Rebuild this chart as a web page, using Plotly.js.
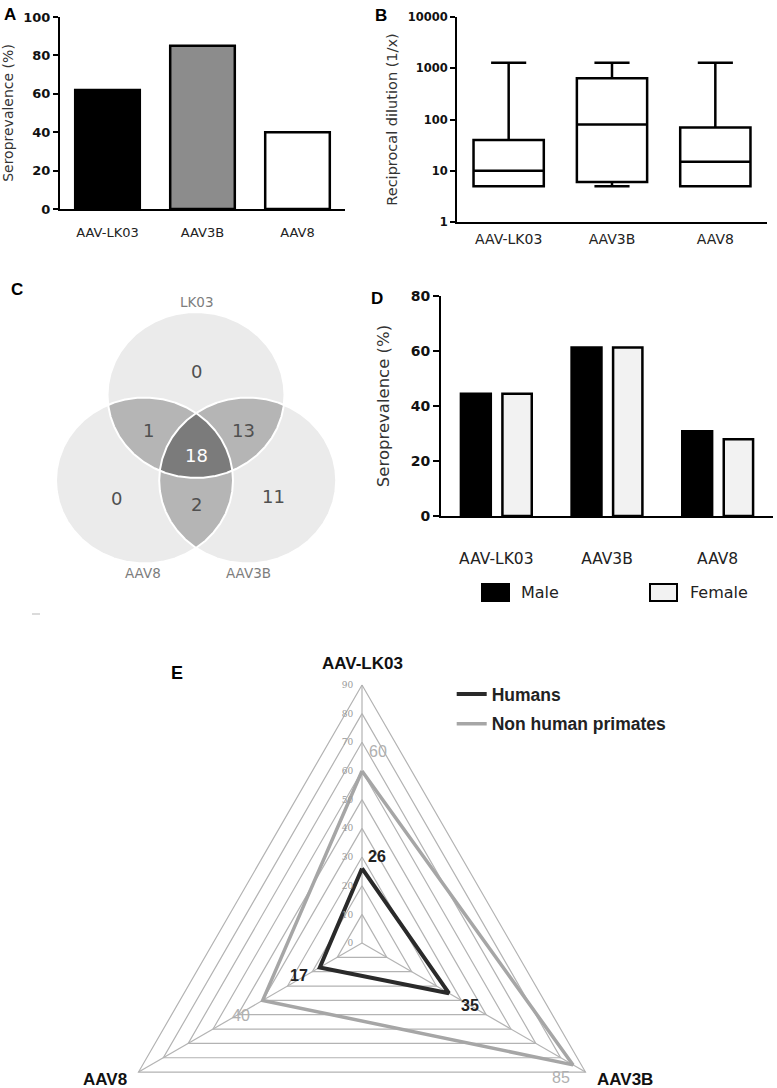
<!DOCTYPE html>
<html><head><meta charset="utf-8">
<script src="https://cdn.plot.ly/plotly-3.0.1.min.js"></script>
<style>html,body{margin:0;padding:0;background:#fff}</style>
</head><body><div id="chart" style="width:777px;height:1088px"></div>
<script>
// ---------------- DATA ----------------
const serotypes = ['AAV-LK03', 'AAV3B', 'AAV8'];
// A: seroprevalence (%)
const seroprevalence = [62, 85, 40];
// B: reciprocal dilution box plot
const titerMin = [5, 5, 5];
const titerQ1 = [5, 6, 5];
const titerMedian = [10, 80, 15];
const titerQ3 = [40, 640, 70];
const titerMax = [1280, 1280, 1280];
// C: Venn diagram
const vennSetNames = ['LK03', 'AAV8', 'AAV3B'];
const vennRegionSets = [[0], [1], [2], [0, 1], [0, 2], [1, 2], [0, 1, 2]];
const vennCounts = [0, 0, 11, 1, 13, 2, 18];
// D: by sex
const maleSero = [44.5, 61.3, 30.8];
const femaleSero = [44.5, 61.3, 27.9];
// E: radar
const radarAxes = ['AAV-LK03', 'AAV3B', 'AAV8'];
const humansSero = [26, 35, 17];
const nhpSero = [60, 85, 40];
const radarTicks = [0, 10, 20, 30, 40, 50, 60, 70, 80, 90];

// ---------------- LAYOUT HELPERS ----------------
const W = 777, H = 1088;
const fx = p => p / W, fy = p => 1 - p / H;
const SANS = 'DejaVu Sans, sans-serif';
const ARIAL = 'Liberation Sans, Arial, sans-serif';

const traces = [];
const shapes = [];
const annotations = [];

// ---------- Panel A ----------
traces.push({
  type: 'bar', x: serotypes, y: seroprevalence, width: 0.68,
  marker: {color: ['#000000', '#8c8c8c', '#ffffff'], line: {color: '#000', width: 2.5}},
  xaxis: 'x', yaxis: 'y', showlegend: false, hoverinfo: 'skip'
});

// ---------- Panel B ----------
traces.push({
  type: 'box', x: serotypes, q1: titerQ1, median: titerMedian, q3: titerQ3,
  lowerfence: titerMin, upperfence: titerMax,
  width: 0.68, whiskerwidth: 0.5, fillcolor: '#ffffff',
  line: {color: '#000', width: 2.5}, xaxis: 'x2', yaxis: 'y2',
  showlegend: false, hoverinfo: 'skip'
});

// ---------- Panel C (Venn) ----------
const VR = {rx: 88.5, ry: 83};
const vennCenters = [[160, 195], [108.5, 109.5], [211.7, 109.5]];
function onEllipse(c, t) { return [c[0] + VR.rx * Math.cos(t), c[1] + VR.ry * Math.sin(t)]; }
function inside(c, p) {
  const dx = (p[0] - c[0]) / VR.rx, dy = (p[1] - c[1]) / VR.ry;
  return dx * dx + dy * dy <= 1 + 1e-9;
}
function regionPoly(idx) {
  const pts = [], N = 1440;
  idx.forEach(i => {
    for (let k = 0; k < N; k++) {
      const p = onEllipse(vennCenters[i], 2 * Math.PI * k / N);
      if (idx.every(j => j === i || inside(vennCenters[j], p))) pts.push(p);
    }
  });
  const cx = pts.reduce((s, p) => s + p[0], 0) / pts.length;
  const cy = pts.reduce((s, p) => s + p[1], 0) / pts.length;
  pts.sort((a, b) => Math.atan2(a[1] - cy, a[0] - cx) - Math.atan2(b[1] - cy, b[0] - cx));
  pts.push(pts[0]);
  return pts;
}
const vennFill = {1: '#ebebeb', 2: '#b5b5b5', 3: '#7b7b7b'};
[[0], [1], [2], [0, 1], [0, 2], [1, 2], [0, 1, 2]].forEach(idx => {
  const poly = regionPoly(idx);
  traces.push({
    type: 'scatter', mode: 'lines', x: poly.map(p => p[0]), y: poly.map(p => p[1]),
    fill: 'toself', fillcolor: vennFill[idx.length], line: {width: 0, color: vennFill[idx.length]},
    xaxis: 'x3', yaxis: 'y3', showlegend: false, hoverinfo: 'skip'
  });
});
[0, 1, 2].forEach(i => {
  const poly = regionPoly([i]);
  traces.push({
    type: 'scatter', mode: 'lines', x: poly.map(p => p[0]), y: poly.map(p => p[1]),
    line: {width: 2, color: '#ffffff'}, xaxis: 'x3', yaxis: 'y3', showlegend: false, hoverinfo: 'skip'
  });
});
const vennCountPx = [[196.7, 371.7], [116.7, 498.3], [273.3, 496.7], [148.3, 430], [243.3, 430], [196.7, 505], [196.7, 455]];
vennCounts.forEach((c, k) => {
  annotations.push({
    xref: 'paper', yref: 'paper', x: fx(vennCountPx[k][0]), y: fy(vennCountPx[k][1]),
    text: String(c), showarrow: false, xanchor: 'center', yanchor: 'middle',
    font: {family: SANS, size: 18, color: vennRegionSets[k].length === 3 ? '#ffffff' : '#505050'}
  });
});
const vennSetPx = [[196.5, 302], [143.3, 573.3], [248.3, 573.3]];
vennSetNames.forEach((n, k) => {
  annotations.push({
    xref: 'paper', yref: 'paper', x: fx(vennSetPx[k][0]), y: fy(vennSetPx[k][1]),
    text: n, showarrow: false, xanchor: 'center', yanchor: 'middle',
    font: {family: SANS, size: 13.5, color: '#7d7d7d'}
  });
});

// ---------- Panel D ----------
traces.push({
  type: 'bar', name: 'Male', x: serotypes, y: maleSero, offset: -0.32, width: 0.27,
  marker: {color: '#000000', line: {color: '#000', width: 2.5}},
  xaxis: 'x4', yaxis: 'y4', showlegend: false, hoverinfo: 'skip'
});
traces.push({
  type: 'bar', name: 'Female', x: serotypes, y: femaleSero, offset: 0.055, width: 0.265,
  marker: {color: '#f2f2f2', line: {color: '#000', width: 2.5}},
  xaxis: 'x4', yaxis: 'y4', showlegend: false, hoverinfo: 'skip'
});
// legend keys for D
shapes.push({type: 'rect', xref: 'paper', yref: 'paper', x0: fx(482), x1: fx(509), y0: fy(601), y1: fy(584),
  fillcolor: '#000', line: {color: '#000', width: 2}});
shapes.push({type: 'rect', xref: 'paper', yref: 'paper', x0: fx(650), x1: fx(677), y0: fy(601), y1: fy(584),
  fillcolor: '#f2f2f2', line: {color: '#000', width: 2}});
annotations.push({xref: 'paper', yref: 'paper', x: fx(519), y: fy(592.5), text: 'Male', showarrow: false,
  xanchor: 'left', yanchor: 'middle', font: {family: SANS, size: 16, color: '#222'}});
annotations.push({xref: 'paper', yref: 'paper', x: fx(688), y: fy(592.5), text: 'Female', showarrow: false,
  xanchor: 'left', yanchor: 'middle', font: {family: SANS, size: 16, color: '#222'}});

// ---------- Panel E (radar) ----------
function radarXY(v, i) { const a = 2 * Math.PI * i / radarAxes.length; return [v * Math.sin(a), v * Math.cos(a)]; }
const gx = [], gy = [];
radarTicks.filter(t => t > 0).forEach(t => {
  [0, 1, 2, 0].forEach(i => { const p = radarXY(t, i); gx.push(p[0]); gy.push(p[1]); });
  gx.push(null); gy.push(null);
});
const rMax = radarTicks[radarTicks.length - 1];
radarAxes.forEach((a, i) => { const p = radarXY(rMax, i); gx.push(0, p[0], null); gy.push(0, p[1], null); });
traces.push({type: 'scatter', mode: 'lines', x: gx, y: gy, line: {color: '#b3b3b3', width: 1.2},
  xaxis: 'x5', yaxis: 'y5', showlegend: false, hoverinfo: 'skip'});
function loop(vals) {
  const idx = vals.map((v, i) => i).concat([0]);
  return {x: idx.map(i => radarXY(vals[i], i)[0]), y: idx.map(i => radarXY(vals[i], i)[1])};
}
const nhpLoop = loop(nhpSero), humLoop = loop(humansSero);
traces.push({type: 'scatter', mode: 'lines', name: 'Non human primates', x: nhpLoop.x, y: nhpLoop.y,
  line: {color: '#a6a6a6', width: 3.5}, xaxis: 'x5', yaxis: 'y5', legendrank: 2, legendgroup: 'n', hoverinfo: 'skip'});
traces.push({type: 'scatter', mode: 'lines', name: 'Humans', x: humLoop.x, y: humLoop.y,
  line: {color: '#2a2a2a', width: 4}, xaxis: 'x5', yaxis: 'y5', legendrank: 1, legendgroup: 'h', hoverinfo: 'skip'});

const humansLabelShift = [[15, 11.8], [21, -12.3], [-21, -8.4]];
const nhpLabelShift = [[16, 19.7], [-12, -12.7], [-22, -15.5]];
const radarAxisLabelShift = [[0, 21], [39.6, -7], [-33.6, -7.5]];
humansSero.forEach((v, i) => {
  const p = radarXY(v, i);
  annotations.push({xref: 'x5', yref: 'y5', x: p[0], y: p[1], text: String(v), showarrow: false,
    xshift: humansLabelShift[i][0], yshift: humansLabelShift[i][1],
    font: {family: ARIAL, size: 16, color: '#222', weight: 'bold'}});
});
nhpSero.forEach((v, i) => {
  const p = radarXY(v, i);
  annotations.push({xref: 'x5', yref: 'y5', x: p[0], y: p[1], text: String(v), showarrow: false,
    xshift: nhpLabelShift[i][0], yshift: nhpLabelShift[i][1],
    font: {family: ARIAL, size: 16, color: '#b0b0b0'}});
});
radarAxes.forEach((a, i) => {
  const p = radarXY(rMax, i);
  annotations.push({xref: 'x5', yref: 'y5', x: p[0], y: p[1], text: a, showarrow: false,
    xshift: radarAxisLabelShift[i][0], yshift: radarAxisLabelShift[i][1],
    font: {family: ARIAL, size: 17, color: '#111', weight: 'bold'}});
});

// ---------- Panel letters ----------
[['A', 10, 14.5], ['B', 381, 15], ['C', 17, 289], ['D', 377, 298], ['E', 177, 672.5]].forEach(l => {
  annotations.push({xref: 'paper', yref: 'paper', x: fx(l[1]), y: fy(l[2]), text: l[0], showarrow: false,
    xanchor: 'center', yanchor: 'middle', font: {family: ARIAL, size: l[0] === 'E' ? 18 : 17, color: '#000', weight: 'bold'}});
});
// small stray mark in panel C
shapes.push({type: 'line', xref: 'paper', yref: 'paper', x0: fx(32), x1: fx(40), y0: fy(614), y1: fy(614),
  line: {color: '#cfcfcf', width: 1.5}});

// ---------- Axes ----------
const baseX = {type: 'category', showline: true, linecolor: '#000', linewidth: 2, showgrid: false, zeroline: false,
  ticks: 'outside', tickcolor: 'rgba(0,0,0,0)', fixedrange: true, automargin: false};
const baseY = {showline: true, linecolor: '#000', linewidth: 2, showgrid: false, zeroline: false,
  ticks: 'outside', tickwidth: 2, tickcolor: '#000', fixedrange: true, automargin: false};

const layout = {
  width: W, height: H, margin: {l: 0, r: 0, t: 0, b: 0},
  paper_bgcolor: '#fff', plot_bgcolor: 'rgba(0,0,0,0)', barmode: 'overlay', hovermode: false,
  font: {family: SANS, color: '#222'},
  xaxis: Object.assign({}, baseX, {domain: [fx(60), fx(345)], anchor: 'y', range: [-0.5, 2.5], ticklen: 10,
    tickfont: {family: SANS, size: 13, color: '#222'}}),
  yaxis: Object.assign({}, baseY, {domain: [fy(209), fy(17)], anchor: 'x', range: [0, 100],
    tickvals: [0, 20, 40, 60, 80, 100], ticklen: 5,
    tickfont: {family: SANS, size: 13, color: '#111', weight: 'bold'},
    title: {text: 'Seroprevalence (%)', standoff: 9, font: {family: SANS, size: 14, color: '#333'}}}),
  xaxis2: Object.assign({}, baseX, {domain: [fx(457), fx(767)], anchor: 'y2', range: [-0.5, 2.5], ticklen: 3,
    tickfont: {family: SANS, size: 14, color: '#222'}}),
  yaxis2: Object.assign({}, baseY, {domain: [fy(222), fy(17)], anchor: 'x2', type: 'log', range: [0, 4],
    tickvals: [1, 10, 100, 1000, 10000], ticktext: ['1', '10', '100', '1000', '10000'], ticklen: 5,
    tickfont: {family: SANS, size: 11.5, color: '#111', weight: 'bold'},
    title: {text: 'Reciprocal dilution (1/x)', standoff: 7, font: {family: SANS, size: 14.5, color: '#333'}}}),
  xaxis3: {domain: [fx(36), fx(356)], anchor: 'y3', range: [0, 320], visible: false, fixedrange: true},
  yaxis3: {domain: [fy(590), fy(290)], anchor: 'x3', range: [0, 300], visible: false, fixedrange: true},
  xaxis4: Object.assign({}, baseX, {domain: [fx(441), fx(773)], anchor: 'y4', range: [-0.5, 2.5], ticklen: 27,
    tickfont: {family: SANS, size: 15.5, color: '#222'}}),
  yaxis4: Object.assign({}, baseY, {domain: [fy(516), fy(296)], anchor: 'x4', range: [0, 80],
    tickvals: [0, 20, 40, 60, 80], ticklen: 6,
    tickfont: {family: SANS, size: 14, color: '#111', weight: 'bold'},
    title: {text: 'Seroprevalence (%)', standoff: 17, font: {family: SANS, size: 16.5, color: '#333'}}}),
  xaxis5: {domain: [fx(75.3), fx(648.7)], anchor: 'y5', range: [-100, 100], visible: false, fixedrange: true},
  yaxis5: {domain: [fy(1086.4), fy(656.3)], anchor: 'free', position: fx(362), range: [-50, 100],
    showline: false, showgrid: false, zeroline: false, tickvals: radarTicks, ticks: 'outside', ticklen: 7,
    tickcolor: 'rgba(0,0,0,0)', tickfont: {family: 'DejaVu Serif, serif', size: 9, color: '#9a9a9a'},
    fixedrange: true, automargin: false},
  showlegend: true,
  legend: {x: fx(451.7), y: fy(676), xanchor: 'left', yanchor: 'top', bgcolor: 'rgba(0,0,0,0)',
    traceorder: 'grouped', tracegroupgap: 4, itemwidth: 30,
    font: {family: ARIAL, size: 17.5, color: '#222', weight: 'bold'}},
  shapes: shapes, annotations: annotations
};

Plotly.newPlot('chart', traces, layout, {staticPlot: true, displayModeBar: false});
</script>
</body></html>
